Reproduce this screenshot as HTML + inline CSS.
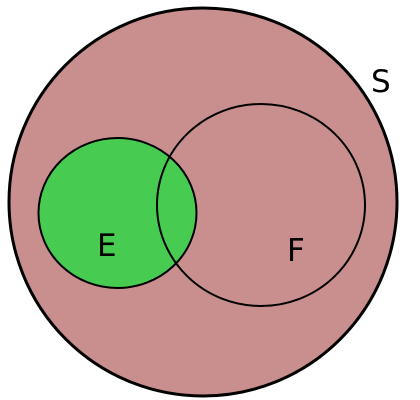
<!DOCTYPE html>
<html>
<head>
<meta charset="utf-8">
<style>
html,body{margin:0;padding:0;background:#fff;width:420px;height:400px;overflow:hidden}
svg{display:block}
text{font-family:"DejaVu Sans","Liberation Sans",sans-serif;font-size:31px;fill:#000}
</style>
</head>
<body>
<svg width="420" height="400" viewBox="0 0 420 400">
  <circle cx="203" cy="202" r="194" fill="#c98f8e" stroke="#000" stroke-width="3"/>
  <ellipse cx="117.5" cy="213" rx="79" ry="75" fill="#47cc51" stroke="#000" stroke-width="2"/>
  <ellipse cx="261" cy="205" rx="104" ry="101" fill="none" stroke="#000" stroke-width="2"/>
  <text x="371" y="92">S</text>
  <text x="97" y="256">E</text>
  <text x="287" y="261">F</text>
</svg>
</body>
</html>
